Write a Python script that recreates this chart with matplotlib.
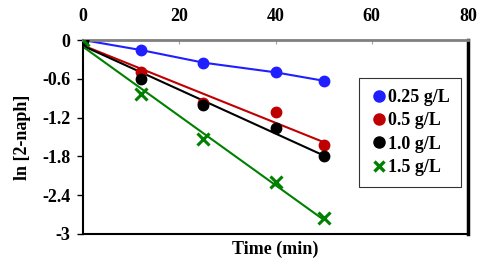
import numpy as np
import matplotlib
matplotlib.use("Agg")
import matplotlib.pyplot as plt
from matplotlib.lines import Line2D

time = [0, 12, 25, 40, 50]
s025 = [0, -0.155, -0.35, -0.50, -0.63]
s05 = [0, -0.50, -0.98, -1.12, -1.62]
s10 = [0, -0.60, -1.00, -1.36, -1.80]
s15 = [0, -0.84, -1.53, -2.20, -2.75]
labels = ["0.25 g/L", "0.5 g/L", "1.0 g/L", "1.5 g/L"]
colors = ["#1f1fff", "#c00000", "#000000", "#008000"]
markers = ["o", "o", "o", "x"]
xticks = [0, 20, 40, 60, 80]
yticks = [0, -0.6, -1.2, -1.8, -2.4, -3]
yticklabels = ["0", "-0.6", "-1.2", "-1.8", "-2.4", "-3"]

plt.rcParams['font.family'] = ['Liberation Serif', 'DejaVu Serif']
plt.rcParams['font.weight'] = 'bold'
FS = 13

fig = plt.figure(figsize=(4.86, 2.65), dpi=100)
ax = fig.add_axes([0.171, 0.117, 0.792, 0.732])

series = [s025, s05, s10, s15]
handles = []
t = np.array(time)
for ys, c, m, lab in zip(series, colors, markers, labels):
    ys = np.array(ys)
    k, b = np.polyfit(t, ys, 1)
    if c == "#1f1fff":
        ax.plot(t, ys, color=c, lw=1.5, zorder=2)
    else:
        ax.plot([t.min(), t.max()], [b + k * t.min(), b + k * t.max()], color=c, lw=1.5, zorder=2)
    if m == "o":
        ax.plot(t, ys, linestyle='none', marker='o', ms=7.5, color=c, zorder=3)
        handles.append(Line2D([], [], linestyle='none', marker='o', ms=8, color=c))
    else:
        ax.plot(t, ys, linestyle='none', marker='x', ms=8, mew=2.2, color=c, zorder=3)
        handles.append(Line2D([], [], linestyle='none', marker='x', ms=7, mew=2.4, color=c))

ax.set_xlim(0, 80)
ax.set_ylim(-3, 0)
ax.xaxis.tick_top()
ax.set_xticks(xticks)
ax.set_xticklabels([str(v) for v in xticks], fontsize=FS, fontweight='bold')
ax.tick_params(axis='x', direction='in', length=3, color='#a0a0a0', pad=11)
ax.set_yticks(yticks)
ax.set_yticklabels(yticklabels, fontsize=FS, fontweight='bold')
ax.tick_params(axis='y', direction='out', length=4, width=1, pad=5)

ax.spines['top'].set_color('#808080')
ax.spines['top'].set_linewidth(2)
for s in ['left', 'bottom']:
    ax.spines[s].set_linewidth(1.5)
ax.spines['right'].set_linewidth(2.5)

ax.set_xlabel("Time (min)", fontsize=FS, fontweight='bold', labelpad=5)
ax.xaxis.set_label_position('bottom')
ax.set_ylabel("ln [2-naph]", fontsize=FS, fontweight='bold', labelpad=8)

leg = ax.legend(handles, labels, loc='upper left', bbox_to_anchor=(0.717, 0.804),
                borderaxespad=0, frameon=True, fancybox=False, edgecolor='black',
                handlelength=1.0, handletextpad=0.0, borderpad=0.6, labelspacing=0.35,
                prop={'weight': 'bold', 'size': FS})
leg.get_frame().set_linewidth(0.8)

fig.savefig("out.png", dpi=100)
